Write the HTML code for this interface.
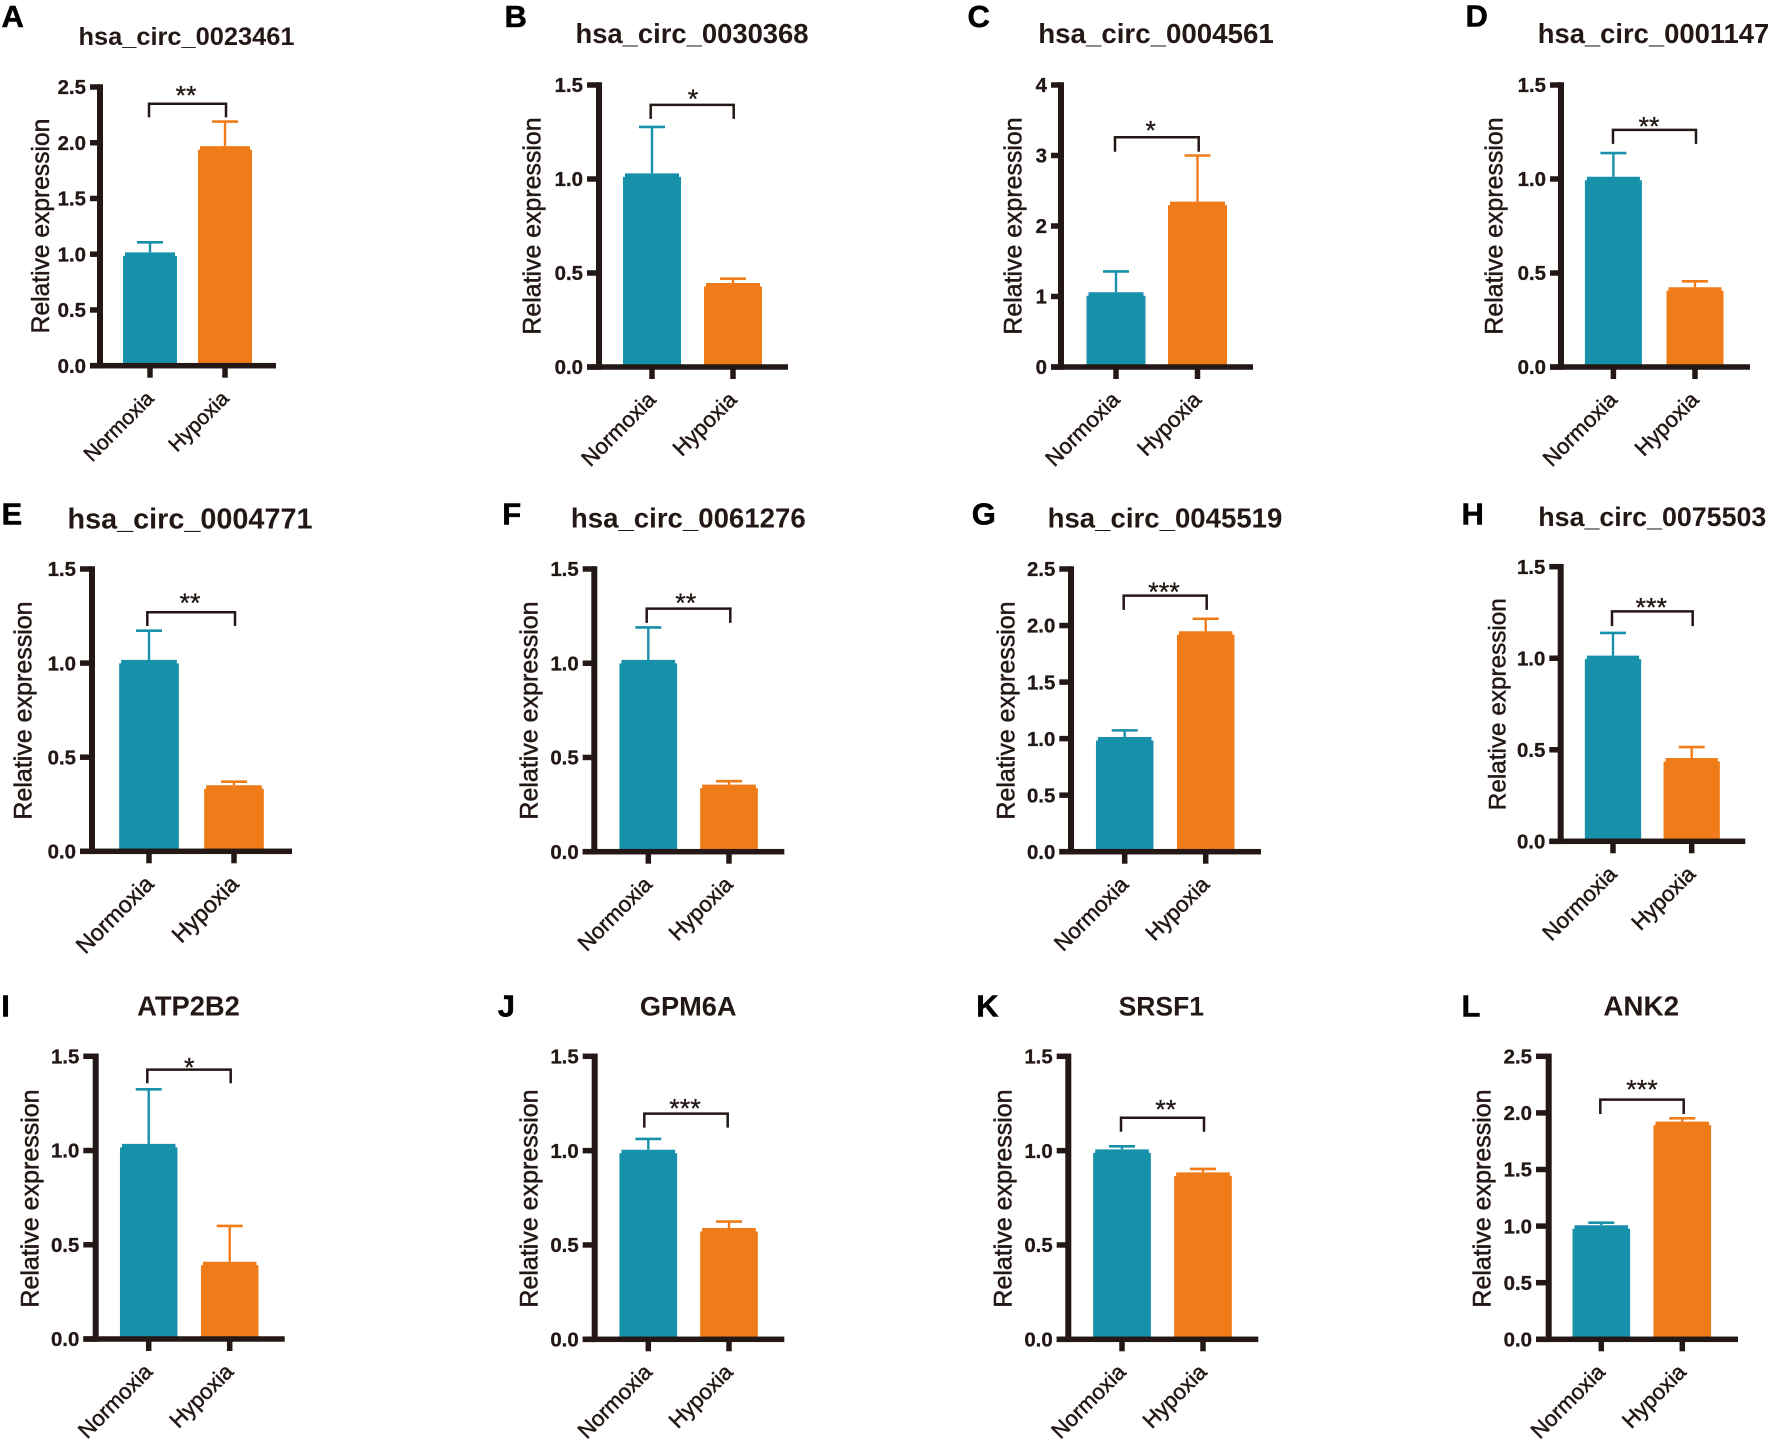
<!DOCTYPE html>
<html lang="en">
<head>
<meta charset="utf-8">
<title>Relative expression under normoxia and hypoxia</title>
<style>
html,body{margin:0;padding:0;background:#fff;}
svg{display:block;}
text{font-family:"Liberation Sans",Arial,sans-serif;fill:#231815;}
</style>
</head>
<body>
<svg id="figure" xmlns="http://www.w3.org/2000/svg" width="1772" height="1444" viewBox="0 0 1772 1444"></svg>
<script>
// ---- Data ----
const panelLetters = ['A','B','C','D','E','F','G','H','I','J','K','L'];
const panelTitles = ['hsa_circ_0023461','hsa_circ_0030368','hsa_circ_0004561','hsa_circ_0001147','hsa_circ_0004771','hsa_circ_0061276','hsa_circ_0045519','hsa_circ_0075503','ATP2B2','GPM6A','SRSF1','ANK2'];
const categories = ['Normoxia','Hypoxia'];
const yAxisTitle = 'Relative expression';
const normoxiaMeans = [1.017,1.03,1.06,1.012,1.017,1.018,1.014,1.014,1.035,1.005,1.007,1.007];
const hypoxiaMeans = [1.97,0.447,2.345,0.424,0.351,0.356,1.949,0.455,0.41,0.59,0.885,1.923];
const normoxiaErrorTops = [1.107,1.277,1.356,1.138,1.172,1.19,1.073,1.138,1.325,1.062,1.023,1.03];
const hypoxiaErrorTops = [2.19,0.47,3.0,0.456,0.37,0.374,2.06,0.515,0.60,0.624,0.903,1.952];
const significance = ['**','*','*','**','**','**','***','***','*','***','**','***'];
const bracketValues = [2.35,1.394,3.258,1.261,1.27,1.29,2.265,1.256,1.429,1.196,1.174,2.117];
const ticks25 = ['0.0','0.5','1.0','1.5','2.0','2.5'];
const ticks15 = ['0.0','0.5','1.0','1.5'];
const ticks4 = ['0','1','2','3','4'];
const yTickLabels = [ticks25,ticks15,ticks4,ticks15,ticks15,ticks15,ticks25,ticks15,ticks15,ticks15,ticks15,ticks25];

// ---- Panel frames (layout only) ----
const frames = [
 {ax:100,top:87,bot:365.7,xEnd:276,tl:90,c0:150,c1:225,bw:54,tx:186.5,ty:45,ts:25.4,lx:1.5,ly:27,ylx:49,yly:226,yls:24.6,sx:186,sy:91.7,bl:149,br:226,bd:13.7,cs:20.8,cd:5},
 {ax:599,top:85,bot:367,xEnd:788,tl:587,c0:652,c1:733,bw:58,tx:692,ty:43,ts:27.4,lx:504.5,ly:27,ylx:540.5,yly:226,yls:24.9,sx:693,sy:95,bl:650.7,br:733.7,bd:14,cs:22,cd:5},
 {ax:1061,top:85,bot:367,xEnd:1253,tl:1051,c0:1116,c1:1197.5,bw:59,tx:1156,ty:43,ts:27.7,lx:967.5,ly:27,ylx:1021.5,yly:226,yls:24.9,sx:1150.6,sy:126.7,bl:1115,br:1198.7,bd:14.4,cs:22,cd:5},
 {ax:1561,top:85,bot:367,xEnd:1750,tl:1550,c0:1613.4,c1:1695,bw:57,tx:1653.5,ty:43,ts:27.4,lx:1465.5,ly:26.3,ylx:1502.5,yly:226,yls:24.9,sx:1649,sy:122.7,bl:1613,br:1696,bd:14,cs:22,cd:5},
 {ax:92,top:569,bot:851.3,xEnd:292,tl:80,c0:149,c1:234,bw:59.7,tx:190,ty:528.3,ts:28.8,lx:1.5,ly:524.3,ylx:31.7,yly:710.5,yls:25,sx:190,sy:599,bl:147.3,br:235,bd:13.7,cs:23,cd:6},
 {ax:594.3,top:569,bot:851.7,xEnd:784.3,tl:582.7,c0:648.3,c1:729,bw:57.7,tx:688.3,ty:527.7,ts:27.6,lx:502.2,ly:524.3,ylx:537.7,yly:710.5,yls:25,sx:685.7,sy:599,bl:646.7,br:730.3,bd:14.3,cs:22,cd:5},
 {ax:1071,top:569,bot:851.7,xEnd:1261,tl:1059.3,c0:1124.7,c1:1205.7,bw:57.5,tx:1165,ty:527.7,ts:27.6,lx:971.8,ly:524.3,ylx:1014.3,yly:710.5,yls:25,sx:1164,sy:588,bl:1123.7,br:1206.7,bd:14.3,cs:22,cd:5},
 {ax:1560.7,top:566.7,bot:841.3,xEnd:1745.3,tl:1549.3,c0:1613,c1:1691.7,bw:56.3,tx:1652.3,ty:526,ts:26.8,lx:1461.5,ly:524.3,ylx:1505.5,yly:704.2,yls:24.3,sx:1651.3,sy:603.3,bl:1612,br:1692.7,bd:14.7,cs:22,cd:5},
 {ax:95.7,top:1056.3,bot:1339,xEnd:284.7,tl:83.3,c0:148.7,c1:229.7,bw:57.5,tx:188.5,ty:1015.7,ts:27.3,lx:1.2,ly:1016.7,ylx:38.5,yly:1198.5,yls:25,sx:189.3,sy:1063.3,bl:147.3,br:230.7,bd:13.6,cs:22,cd:5},
 {ax:594.7,top:1056.3,bot:1339.3,xEnd:784.3,tl:582.7,c0:648.3,c1:729,bw:57.7,tx:688.2,ty:1015.7,ts:27.2,lx:497.8,ly:1016.7,ylx:537.7,yly:1198.5,yls:25,sx:685,sy:1104.7,bl:644.3,br:727.7,bd:14,cs:22,cd:5},
 {ax:1068.3,top:1056.3,bot:1339.3,xEnd:1258.3,tl:1056.7,c0:1122,c1:1203,bw:57.7,tx:1161.3,ty:1015.7,ts:26.5,lx:976.2,ly:1016.7,ylx:1011.7,yly:1198.5,yls:25,sx:1165.7,sy:1105.7,bl:1121,br:1204,bd:14,cs:22,cd:5},
 {ax:1548.7,top:1056.3,bot:1339.3,xEnd:1738,tl:1536,c0:1601.3,c1:1682.3,bw:57.6,tx:1641.2,ty:1015.7,ts:27.8,lx:1461.5,ly:1016.7,ylx:1490.5,yly:1198.5,yls:25,sx:1642,sy:1085.7,bl:1600.3,br:1683.7,bd:14.3,cs:22,cd:5}
];

const INK = '#231815';
const barColors = ['#1790aa','#f07c19'];
const svg = document.getElementById('figure');
const NS = 'http://www.w3.org/2000/svg';

function make(tag, attrs, parent){
  const node = document.createElementNS(NS, tag);
  for (const k in attrs) node.setAttribute(k, attrs[k]);
  parent.appendChild(node);
  return node;
}

panelLetters.forEach(function(letter, p){
  const f = frames[p];
  const ticks = yTickLabels[p];
  const yMax = parseFloat(ticks[ticks.length - 1]);
  const y = function(v){ return f.bot - (v / yMax) * (f.bot - f.top); };
  const x = function(i){ return f.c0 + i * (f.c1 - f.c0); };
  const means = [normoxiaMeans[p], hypoxiaMeans[p]];
  const errs = [normoxiaErrorTops[p], hypoxiaErrorTops[p]];

  const g = make('g', {}, svg);
  
  

  const lt = make('text', {x:f.lx, y:f.ly, 'font-size':31, 'font-weight':'bold', style:'fill:#000', stroke:'#000', 'stroke-width':0.5}, g);
  
  
  lt.textContent = letter;

  const tt = make('text', {x:f.tx, y:f.ty, 'font-size':f.ts, 'font-weight':'bold', 'text-anchor':'middle'}, g);
  
  
  tt.textContent = panelTitles[p];

  const yl = make('text', {transform:'translate(' + f.ylx + ',' + f.yly + ') rotate(-90)', 'font-size':f.yls, 'text-anchor':'middle', stroke:INK, 'stroke-width':0.5}, g);
  
  
  yl.textContent = yAxisTitle;

  // bars and error bars
  means.forEach(function(m, i){
    const cx = x(i), hw = f.bw / 2, t = y(m), b = f.bot, col = barColors[i];
    const bar = make('path', {d:'M' + (cx-hw) + ' ' + b + 'V' + (t+3.5) + 'H' + (cx-hw+2) + 'V' + t + 'H' + (cx+hw-2) + 'V' + (t+3.5) + 'H' + (cx+hw) + 'V' + b + 'Z', fill:col}, g);
    
    

    const stem = make('line', {x1:cx, x2:cx, y1:t, y2:y(errs[i]), stroke:col, 'stroke-width':2.4}, g);
    
    

    const cap = make('line', {x1:cx-13, x2:cx+13, y1:y(errs[i]), y2:y(errs[i]), stroke:col, 'stroke-width':2.6}, g);
    
    
  });

  // axes
  const yAxis = make('rect', {x:f.ax-3, y:f.top-2.75, width:6, height:f.bot-f.top+5.5, fill:INK}, g);
  
  

  const xAxis = make('rect', {x:f.tl, y:f.bot-2.75, width:f.xEnd-f.tl, height:5.5, fill:INK}, g);
  
  

  ticks.forEach(function(label){
    const v = parseFloat(label);
    const tm = make('rect', {x:f.tl, y:y(v)-2.75, width:f.ax-f.tl, height:5.5, fill:INK}, g);
    
    

    const tl = make('text', {x:f.tl-4, y:y(v)+7.2, 'font-size':20.4, 'font-weight':'bold', 'text-anchor':'end', stroke:INK, 'stroke-width':0.3}, g);
    
    
    tl.textContent = label;
  });

  categories.forEach(function(name, i){
    const cx = x(i);
    const tm = make('rect', {x:cx-2.75, y:f.bot, width:5.5, height:12, fill:INK}, g);
    
    

    const cl = make('text', {transform:'translate(' + (cx+f.cd) + ',' + (f.bot+34) + ') rotate(-45)', 'font-size':f.cs, 'text-anchor':'end', stroke:INK, 'stroke-width':0.5}, g);
    
    
    cl.textContent = name;
  });

  // significance bracket
  const by = y(bracketValues[p]);
  const br = make('path', {d:'M' + f.bl + ' ' + (by+f.bd) + 'V' + by + 'H' + f.br + 'V' + (by+f.bd), fill:'none', stroke:INK, 'stroke-width':2.5}, g);
  
  

  const st = make('text', {x:f.sx, y:f.sy+13, 'font-size':27, 'text-anchor':'middle', stroke:INK, 'stroke-width':0.3}, g);
  
  
  st.textContent = significance[p];
});
</script>
</body>
</html>
